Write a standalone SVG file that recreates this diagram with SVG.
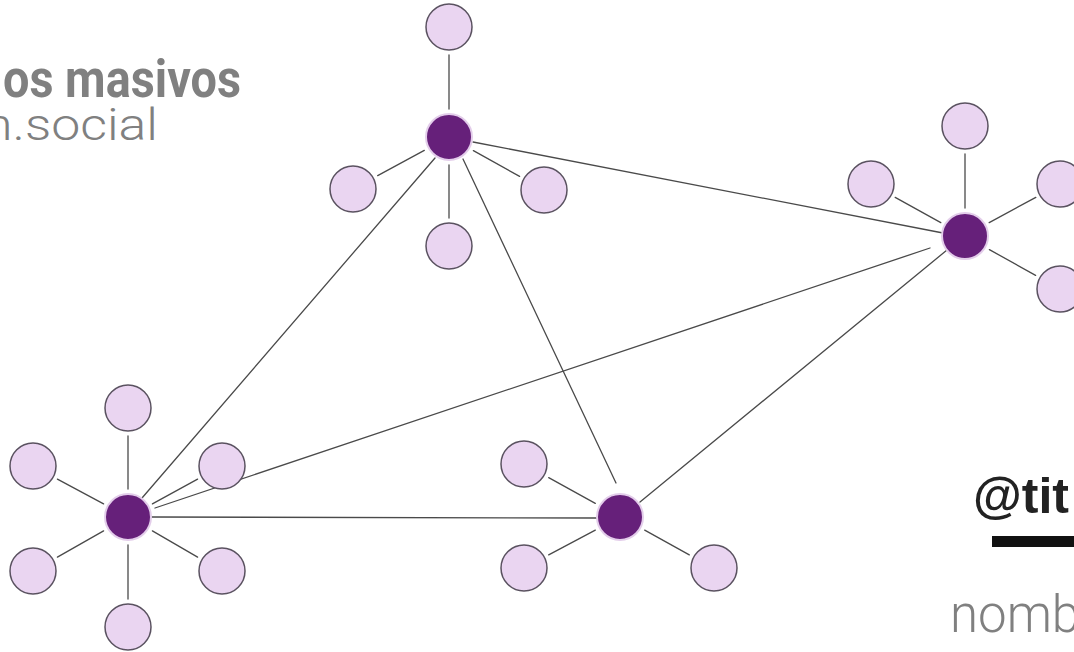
<svg xmlns="http://www.w3.org/2000/svg" width="1074" height="652" viewBox="0 0 1074 652">
<style>
.bg{fill:#ffffff}
.e{stroke:#4a4a4a;stroke-width:1.3;fill:none;stroke-linecap:round}
.hub{fill:#66207a;stroke:#e3cdea;stroke-width:2}
.sat{fill:#ead5f1;stroke:#5a5260;stroke-width:1.5}
.t1{font-family:Roboto,"Liberation Sans",Arial,sans-serif;font-weight:bold;fill:#808080;font-size:51px}
.t2{font-family:Roboto,"Liberation Sans",Arial,sans-serif;font-weight:300;fill:#808080;font-size:44px}
.t3{font-family:"Liberation Sans",Arial,sans-serif;font-weight:bold;fill:#222222;font-size:50px}
.t4{font-family:Roboto,"Liberation Sans",Arial,sans-serif;font-weight:300;fill:#808080;font-size:51px}
</style>
<rect class="bg" x="0" y="0" width="1074" height="652"/>
<g id="title">
<text class="t1" x="3" y="97" textLength="238" lengthAdjust="spacingAndGlyphs">os masivos</text>
<text class="t2" x="-16" y="140" textLength="174" lengthAdjust="spacingAndGlyphs">n.social</text>
</g>
<g id="byline">
<text class="t3" x="973" y="513">@tit</text>
<rect x="992" y="536" width="90" height="11" fill="#111111"/>
<text class="t4" x="950" y="632">nomb</text>
</g>
<g id="connectors">
<line class="e" x1="473" y1="142" x2="943" y2="233"/>
<line class="e" x1="435" y1="158" x2="142" y2="498"/>
<line class="e" x1="463" y1="159" x2="616" y2="483"/>
<line class="e" x1="155" y1="508" x2="930" y2="248"/>
<line class="e" x1="152" y1="517" x2="597" y2="518"/>
<line class="e" x1="640" y1="502" x2="947" y2="250"/>
<line class="e" x1="449" y1="109" x2="449" y2="55"/>
<line class="e" x1="449" y1="165" x2="449" y2="218"/>
<line class="e" x1="424.3" y1="150.4" x2="377.7" y2="175.6"/>
<line class="e" x1="473.4" y1="150.6" x2="519.6" y2="176.4"/>
<line class="e" x1="965" y1="208" x2="965" y2="154"/>
<line class="e" x1="940.8" y1="222.6" x2="895.2" y2="197.4"/>
<line class="e" x1="989.2" y1="222.6" x2="1035.8" y2="197.4"/>
<line class="e" x1="989.4" y1="249.6" x2="1035.6" y2="275.4"/>
<line class="e" x1="128" y1="489" x2="128" y2="436"/>
<line class="e" x1="128" y1="545" x2="128" y2="599"/>
<line class="e" x1="103.6" y1="503.9" x2="57.4" y2="479.1"/>
<line class="e" x1="152.4" y1="503.9" x2="197.6" y2="479.1"/>
<line class="e" x1="103.6" y1="530.9" x2="57.4" y2="557.1"/>
<line class="e" x1="152.4" y1="530.9" x2="197.6" y2="557.1"/>
<line class="e" x1="595.3" y1="503.4" x2="548.7" y2="477.6"/>
<line class="e" x1="595.3" y1="530.1" x2="548.7" y2="554.9"/>
<line class="e" x1="644.7" y1="530.1" x2="689.3" y2="554.9"/>
</g>
<g id="hubA">
<circle class="hub" cx="449" cy="137" r="23"/>
<circle class="sat" cx="449" cy="27" r="23"/>
<circle class="sat" cx="449" cy="246" r="23"/>
<circle class="sat" cx="353" cy="189" r="23"/>
<circle class="sat" cx="544" cy="190" r="23"/>
</g>
<g id="hubB">
<circle class="hub" cx="965" cy="236" r="23"/>
<circle class="sat" cx="965" cy="126" r="23"/>
<circle class="sat" cx="871" cy="184" r="23"/>
<circle class="sat" cx="1060" cy="184" r="23"/>
<circle class="sat" cx="1060" cy="289" r="23"/>
</g>
<g id="hubC">
<circle class="hub" cx="128" cy="517" r="23"/>
<circle class="sat" cx="128" cy="408" r="23"/>
<circle class="sat" cx="128" cy="627" r="23"/>
<circle class="sat" cx="33" cy="466" r="23"/>
<circle class="sat" cx="222" cy="466" r="23"/>
<circle class="sat" cx="33" cy="571" r="23"/>
<circle class="sat" cx="222" cy="571" r="23"/>
</g>
<g id="hubD">
<circle class="hub" cx="620" cy="517" r="23"/>
<circle class="sat" cx="524" cy="464" r="23"/>
<circle class="sat" cx="524" cy="568" r="23"/>
<circle class="sat" cx="714" cy="568" r="23"/>
</g>
</svg>
